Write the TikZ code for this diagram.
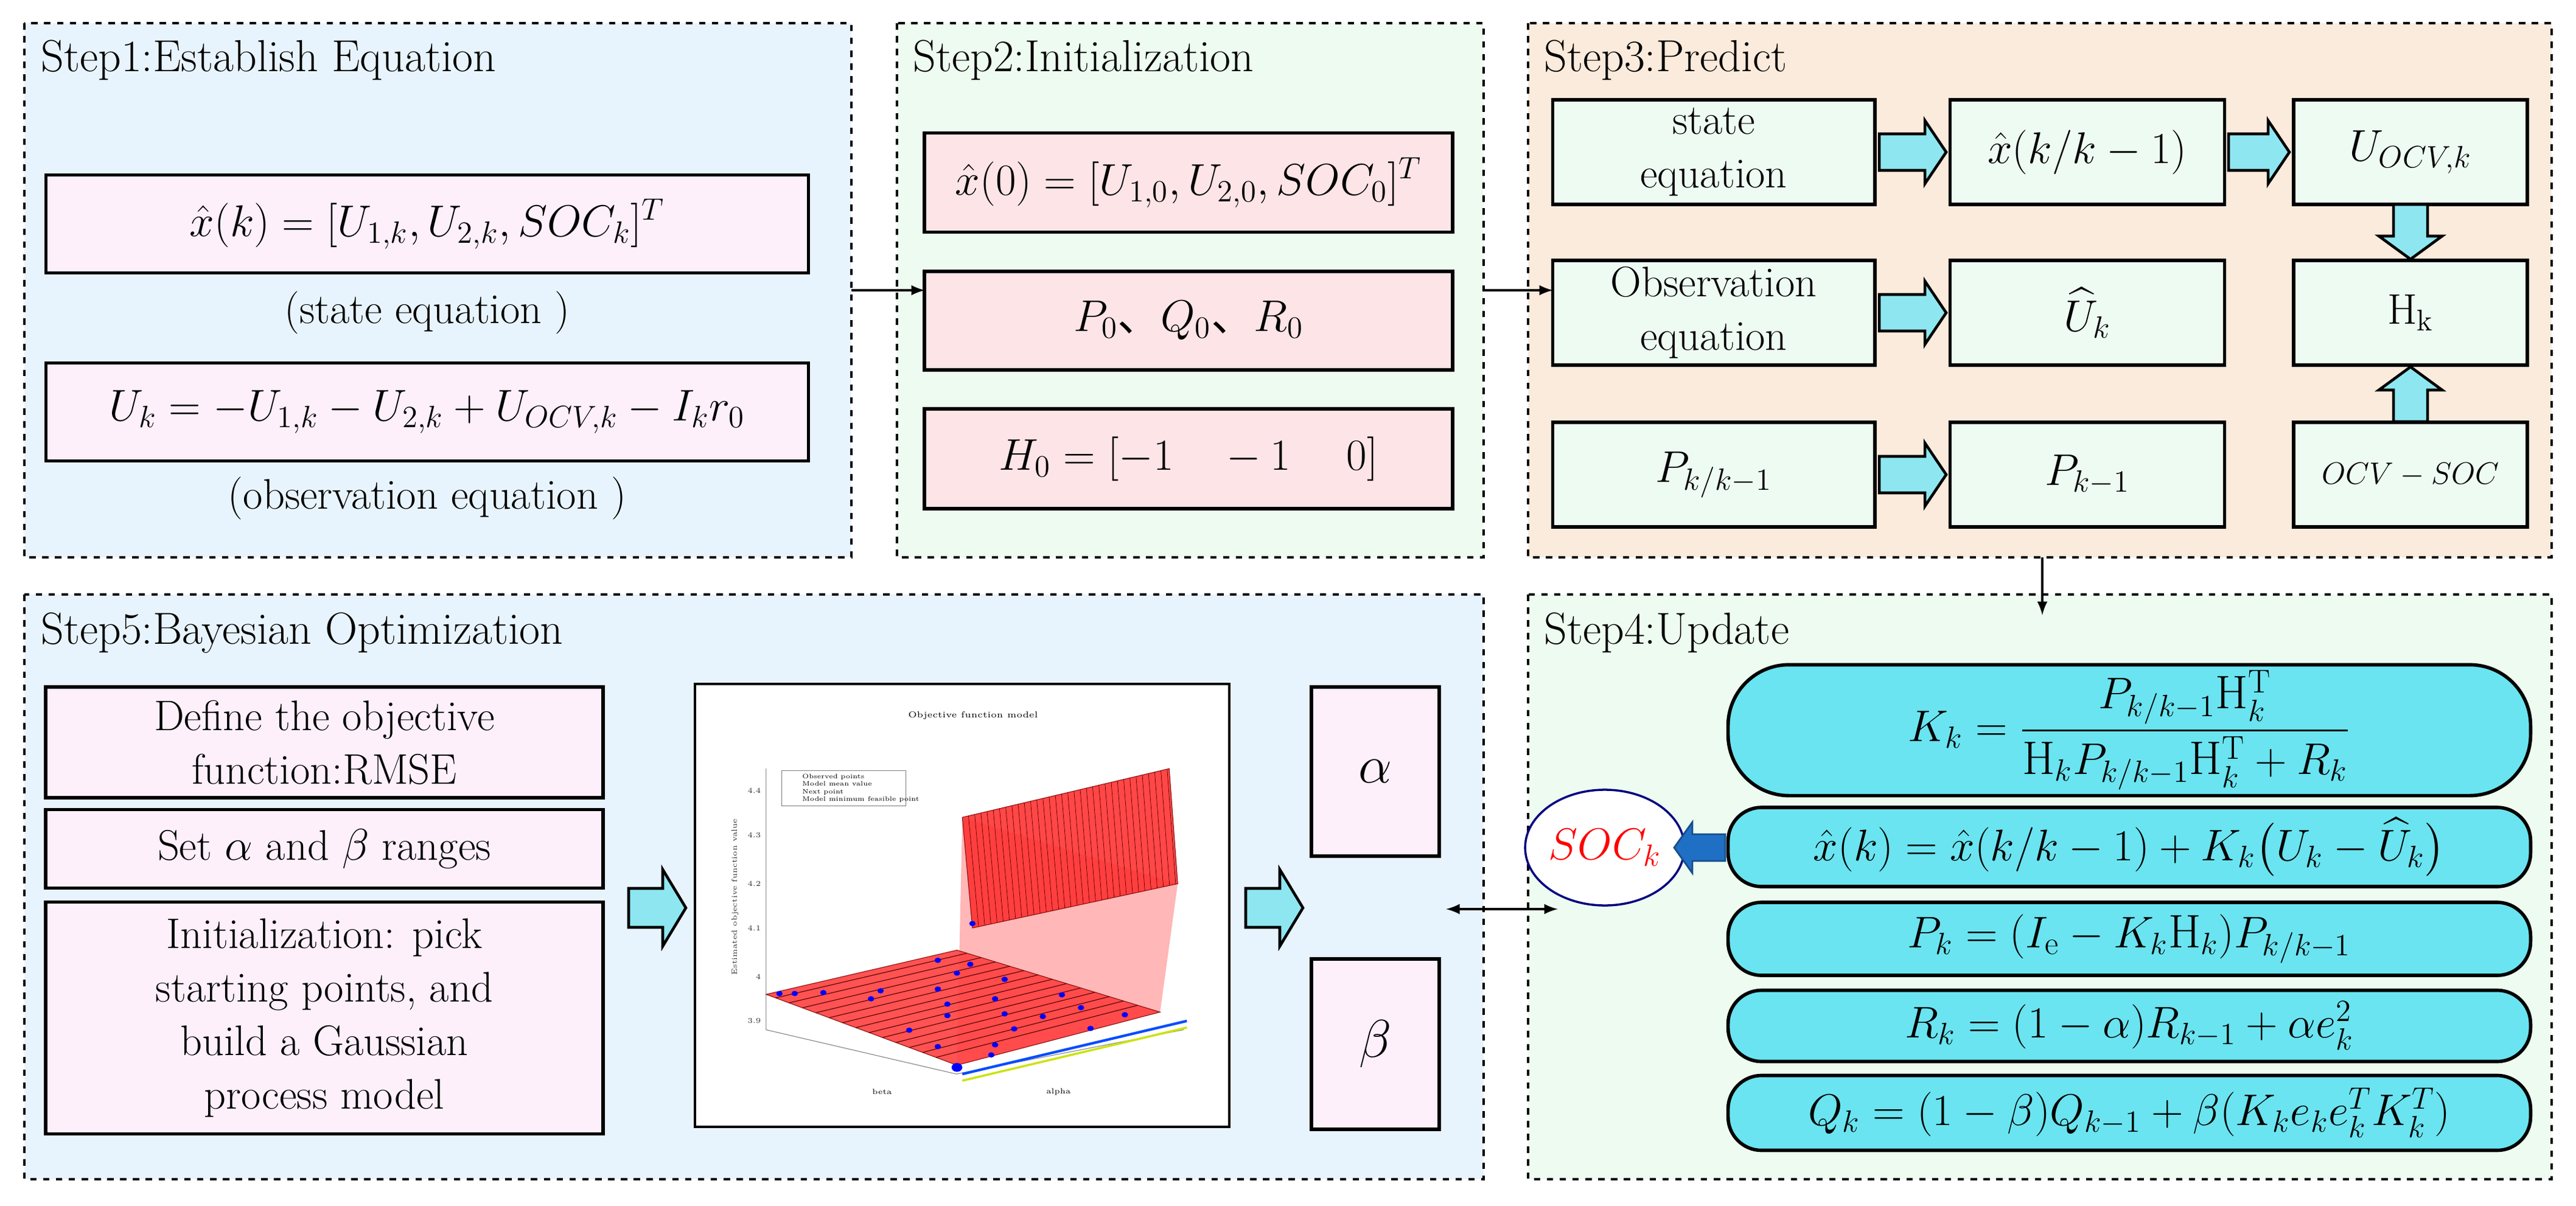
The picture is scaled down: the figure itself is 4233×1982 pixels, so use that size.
\documentclass[tikz,border=0pt]{standalone}
\usepackage{amsmath}
\usepackage{fontspec}
\newfontfamily\cjk{Noto Sans CJK SC}
\usetikzlibrary{shapes.geometric}
\definecolor{bgA}{HTML}{E8F4FD}
\definecolor{bgB}{HTML}{EEFBF0}
\definecolor{bgC}{HTML}{FBEBDC}
\definecolor{boxA}{HTML}{FDF0FB}
\definecolor{boxB}{HTML}{FDE4E7}
\definecolor{boxC}{HTML}{EEFBF3}
\definecolor{boxD}{HTML}{6AE4F0}
\definecolor{fatc}{HTML}{8EE7F0}
\definecolor{blu}{HTML}{1F6FC5}
% \farrow{x}{y}{rot}{half length}{half shaft}{half head}{head length}{style}
\newcommand{\farrow}[8]{%
  \begin{scope}[shift={(#1,#2)},rotate=#3]
  \path[#8] (-#4,-#5) -- ({#4-#7},-#5) -- ({#4-#7},-#6) -- (#4,0) -- ({#4-#7},#6) -- ({#4-#7},#5) -- (-#4,#5) -- cycle;
  \end{scope}}
\begin{document}
\begin{tikzpicture}[x=0.01cm,y=-0.01cm,
  every node/.style={font=\fontsize{20}{25}\selectfont},
  panel/.style={draw,dashed,line width=1.2pt},
  ttl/.style={anchor=west,font=\fontsize{21}{25}\selectfont},
  bx/.style={draw,line width=1.6pt,inner sep=0pt,align=center},
  rbx/.style={draw,line width=1.6pt,rounded corners=0.55cm,fill=boxD,inner sep=0pt,align=center,font=\fontsize{22}{26}\selectfont},
  fat/.style={draw,line width=1.3pt,fill=fatc,line join=miter},
  bfat/.style={draw=blu!70!black,line width=0.8pt,fill=blu},
  con/.style={-latex,line width=1.2pt}]
\useasboundingbox (0,0) rectangle (4233,1982);
% panels
\path[panel,fill=bgA] (40,38) rectangle (1399,916);
\path[panel,fill=bgB] (1474,38) rectangle (2438,916);
\path[panel,fill=bgC] (2511,38) rectangle (4193,916);
\path[panel,fill=bgA] (40,977) rectangle (2438,1938);
\path[panel,fill=bgB] (2511,977) rectangle (4193,1938);
\node[ttl] (t1) at (55,99) {Step1:Establish Equation};
\node[ttl] (t2) at (1488,99) {Step2:Initialization};
\node[ttl] (t3) at (2525,99) {Step3:Predict};
\node[ttl] (t5) at (55,1040) {Step5:Bayesian Optimization};
\node[ttl] (t4) at (2525,1040) {Step4:Update};
% step1
\node[bx,fill=boxA,minimum width=12.52cm,minimum height=1.61cm,font=\fontsize{22}{26}\selectfont] (s1a) at (702,368) {$\hat{x}(k)=[U_{1,k},U_{2,k},SOC_k]^T$};
\node (s1al) at (702,514) {(state equation )};
\node[bx,fill=boxA,minimum width=12.52cm,minimum height=1.61cm,font=\fontsize{22}{26}\selectfont] (s1b) at (702,677) {$U_k=-U_{1,k}-U_{2,k}+U_{OCV,k}-I_kr_0$};
\node (s1bl) at (702,819) {(observation equation )};
% step2
\node[bx,fill=boxB,minimum width=8.67cm,minimum height=1.63cm] (s2a) at (1953,300) {$\hat{x}(0)=[U_{1,0},U_{2,0},SOC_0]^T$};
\node[bx,fill=boxB,minimum width=8.67cm,minimum height=1.62cm] (s2b) at (1953,527) {$P_0${\cjk 、}$Q_0${\cjk 、}$R_0$};
\node[bx,fill=boxB,minimum width=8.67cm,minimum height=1.64cm] (s2c) at (1953,754) {$H_0=[-1\quad -1\quad\ 0]$};
\coordinate (a12s) at (1399,477); \coordinate (a12e) at (1520,477);
\draw[con] (a12s) -- (a12e);
\coordinate (a23s) at (2438,477); \coordinate (a23e) at (2552,477);
\draw[con] (a23s) -- (a23e);
% step3
\tikzset{c1/.style={bx,fill=boxC,minimum width=5.29cm,minimum height=1.72cm},
 c2/.style={bx,fill=boxC,minimum width=4.51cm,minimum height=1.72cm},
 c3/.style={bx,fill=boxC,minimum width=3.84cm,minimum height=1.72cm}}
\node[c1] (p11) at (2816,250) {state\\equation};
\node[c2] (p12) at (3430,250) {$\hat{x}(k/k-1)$};
\node[c3] (p13) at (3961,250) {$U_{OCV,k}$};
\node[c1] (p21) at (2816,514) {Observation\\equation};
\node[c2] (p22) at (3430,514) {$\widehat{U}_k$};
\node[c3] (p23) at (3961,514) {$\mathrm{H_k}$};
\node[c1] (p31) at (2816,780) {$P_{k/k-1}$};
\node[c2] (p32) at (3430,780) {$P_{k-1}$};
\node[c3,font=\fontsize{15}{18}\selectfont] (p33) at (3961,780) {$OCV-SOC$};
\farrow{3143}{250}{0}{55}{30}{52}{35}{fat}
\farrow{3143}{514}{0}{55}{30}{52}{35}{fat}
\farrow{3143}{780}{0}{55}{30}{52}{35}{fat}
\farrow{3712}{250}{0}{50}{30}{52}{35}{fat}
\farrow{3961}{381}{-90}{45}{28}{52}{38}{fat}
\farrow{3961}{648}{90}{45}{28}{52}{38}{fat}
\coordinate (a34s) at (3356,916); \coordinate (a34e) at (3356,1011);
\draw[con] (a34s) -- (a34e);
% step4
\node[ellipse,draw=blue!50!black,line width=1pt,fill=white,minimum width=2.24cm,minimum height=1.9cm,inner sep=0pt,text=red,font=\fontsize{21}{25}\selectfont] (soc) at (2637,1393) {$SOC_k$};
\node[rbx,minimum width=13.18cm,minimum height=2.15cm,rounded corners=1cm] (e1) at (3499,1200) {$K_k=\dfrac{P_{k/k-1}\mathrm{H}_k^{\mathrm T}}{\mathrm{H}_kP_{k/k-1}\mathrm{H}_k^{\mathrm T}+R_k}$};
\node[rbx,minimum width=13.18cm,minimum height=1.3cm] (e2) at (3499,1392) {$\hat{x}(k)=\hat{x}(k/k-1)+K_k\bigl(U_k-\widehat{U}_k\bigr)$};
\node[rbx,minimum width=13.18cm,minimum height=1.2cm] (e3) at (3499,1543) {$P_k=(I_{\mathrm e}-K_k\mathrm{H}_k)P_{k/k-1}$};
\node[rbx,minimum width=13.18cm,minimum height=1.17cm] (e4) at (3499,1686) {$R_k=(1-\alpha)R_{k-1}+\alpha e_k^2$};
\node[rbx,minimum width=13.18cm,minimum height=1.23cm] (e5) at (3499,1829) {$Q_k=(1-\beta)Q_{k-1}+\beta(K_ke_ke_k^TK_k^T)$};
\farrow{2793}{1393}{180}{42}{22}{42}{30}{bfat}
\coordinate (dbl1) at (2376,1494); \coordinate (dbl2) at (2560,1494);
\draw[latex-latex,line width=1.2pt] (dbl1) -- (dbl2);
% step5
\node[bx,fill=boxA,minimum width=9.15cm,minimum height=1.82cm] (b1) at (533,1220) {Define the objective\\function:RMSE};
\node[bx,fill=boxA,minimum width=9.15cm,minimum height=1.29cm] (b2) at (533,1395) {Set $\alpha$ and $\beta$ ranges};
\node[bx,fill=boxA,minimum width=9.15cm,minimum height=3.81cm] (b3) at (533,1673) {Initialization: pick\\starting points, and\\build a Gaussian\\process model};
\farrow{1080}{1492}{0}{47}{32}{63}{38}{fat}
\farrow{2094}{1492}{0}{47}{32}{63}{38}{fat}
\node[bx,fill=boxA,minimum width=2.1cm,minimum height=2.78cm,font=\fontsize{24}{28}\selectfont] (al) at (2260,1268) {$\alpha$};
\node[bx,fill=boxA,minimum width=2.1cm,minimum height=2.8cm,font=\fontsize{24}{28}\selectfont] (be) at (2260,1716) {$\beta$};
% plot
\node[draw,line width=1.2pt,fill=white,minimum width=8.78cm,minimum height=7.27cm,inner sep=0pt] (plot) at (1581,1488) {};
\begin{scope}[shift={(1142,1125)},x=8.78cm,y=-7.27cm]
\node[font=\fontsize{4}{5}\selectfont] (ptitle) at (0.52,0.07) {Objective function model};
\draw[gray,line width=0.3pt] (0.133,0.19) -- (0.133,0.78) -- (0.489,0.88) -- (0.914,0.78);
\foreach \v/\yy in {4.4/0.24,4.3/0.34,4.2/0.45,4.1/0.55,4/0.66,3.9/0.76}
  \node[font=\fontsize{3.5}{4}\selectfont,anchor=east,gray!40!black,inner sep=1pt] at (0.128,\yy) {\v};
\node[font=\fontsize{3.5}{4}\selectfont,rotate=90,gray!40!black] (ylab) at (0.075,0.48) {Estimated objective function value};
\node[font=\fontsize{3.5}{4}\selectfont] (bl) at (0.35,0.92) {beta};
\node[font=\fontsize{3.5}{4}\selectfont] (alab) at (0.68,0.92) {alpha};
\fill[red!80,opacity=0.35] (0.49,0.86) -- (0.50,0.30) -- (0.903,0.45) -- (0.87,0.74) -- cycle;
\filldraw[fill=red!75,draw=red!50!black,line width=0.3pt,opacity=0.9] (0.133,0.70) -- (0.49,0.60) -- (0.87,0.74) -- (0.49,0.86) -- cycle;
\foreach \t in {0.05,0.12,...,0.95}
  \draw[red!30!black,line width=0.3pt] ({0.133+0.357*\t},{0.70+0.16*\t}) -- ({0.49+0.38*\t},{0.60+0.14*\t});
\filldraw[fill=red!80,draw=red!50!black,line width=0.3pt,opacity=0.9] (0.50,0.30) -- (0.887,0.19) -- (0.903,0.45) -- (0.519,0.55) -- cycle;
\foreach \t in {0.03,0.06,...,0.99}
  \draw[red!40!black,line width=0.2pt] ({0.50+0.387*\t},{0.30-0.11*\t}) -- ({0.519+0.384*\t},{0.55-0.10*\t});
\draw[blue!70!cyan,line width=1.2pt] (0.50,0.88) -- (0.92,0.76);
\draw[yellow!80!green,line width=1pt] (0.50,0.895) -- (0.92,0.775);
\foreach \s/\t in {0.05/0.02,0.1/0.05,0.2/0.1,0.3/0.25,0.4/0.2,0.5/0.45,0.6/0.3,0.7/0.5,0.8/0.2,0.9/0.35,0.95/0.6,0.98/0.9,0.7/0.75,0.5/0.8,0.3/0.9,0.2/0.98,0.85/0.05,0.92/0.15,0.6/0.65,0.4/0.55,0.75/0.95,0.9/0.75,0.15/0.6,0.1/0.8}
  \fill[blue] ({0.133+0.357*\s+0.357*\t},{0.70-0.10*\s+0.16*\t}) circle (0.006);
\fill[blue] (0.519,0.54) circle (0.006);
\fill[blue] (0.49,0.865) circle (0.01);
\draw[gray,line width=0.3pt,fill=white] (0.162,0.194) rectangle (0.394,0.274);
\node[font=\fontsize{3}{3.5}\selectfont,anchor=west,align=left,inner sep=0pt] (leg) at (0.2,0.234) {Observed points\\Model mean value\\Next point\\Model minimum feasible point};
\end{scope}
\end{tikzpicture}
\end{document}
